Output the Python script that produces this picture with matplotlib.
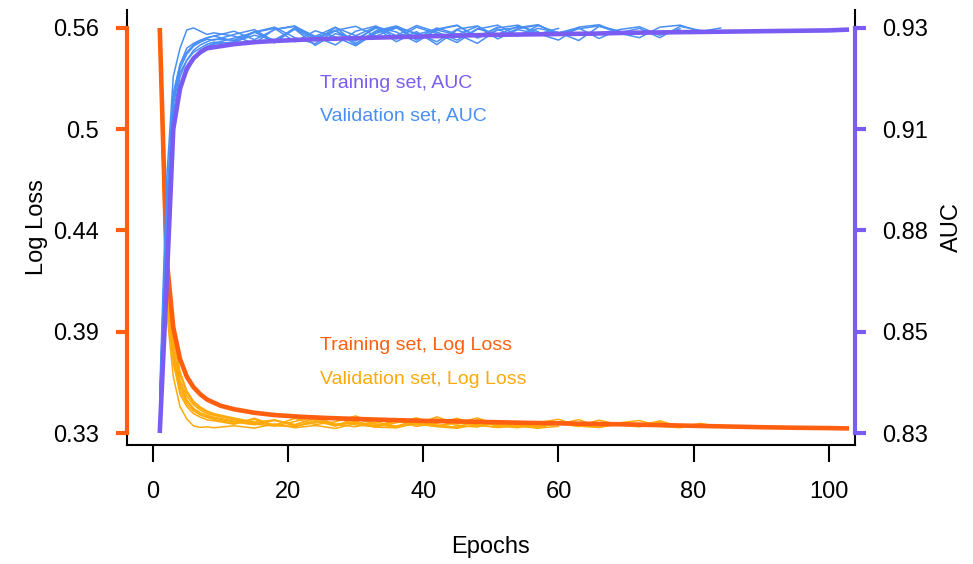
import numpy as np
import matplotlib
matplotlib.use('Agg')
import matplotlib.pyplot as plt

plt.rcParams['font.family'] = ['Liberation Sans', 'DejaVu Sans']

# training curves (epochs)
tr_ep = [1, 2, 3, 4, 5, 6, 7, 8, 10, 12, 15, 18, 22, 26, 30, 35, 40, 45, 50,
         55, 60, 65, 70, 75, 80, 85, 90, 95, 100, 103]
tr_loss = [0.560, 0.430, 0.390, 0.372, 0.362, 0.356, 0.352, 0.349, 0.3455,
           0.3435, 0.3415, 0.3402, 0.3392, 0.3385, 0.3380, 0.3374, 0.3369,
           0.3366, 0.3362, 0.3358, 0.3355, 0.3352, 0.3349, 0.3345, 0.3341,
           0.3337, 0.3333, 0.3330, 0.3328, 0.3326]
tr_auc = [0.830, 0.866, 0.905, 0.915, 0.920, 0.9225, 0.924, 0.925, 0.9255,
          0.926, 0.9265, 0.9268, 0.9271, 0.9273, 0.9275, 0.9277, 0.9279,
          0.9281, 0.9283, 0.9284, 0.9285, 0.9286, 0.9288, 0.9289, 0.9290,
          0.9291, 0.9292, 0.9293, 0.9294, 0.9296]

# validation runs, each stops at its own epoch
v_ep = [1, 2, 3, 4, 5, 6, 7, 8, 9, 12, 15, 18, 21, 24, 27, 30, 33, 36, 39,
        42, 45, 48, 51, 54, 57, 60, 63, 66, 69, 72, 75, 78, 81, 84]

vl_a = [0.552, 0.418, 0.378, 0.360, 0.351, 0.346, 0.343, 0.341, 0.340,
        0.3378, 0.3352, 0.3371, 0.3345, 0.3388, 0.3350, 0.3366, 0.3340, 0.3372,
        0.3348, 0.3392, 0.3351, 0.3363, 0.3342]
va_a = [0.836, 0.880, 0.911, 0.919, 0.922, 0.924, 0.925, 0.926, 0.9265,
        0.9262, 0.9290, 0.9268, 0.9297, 0.9257, 0.9286, 0.9272, 0.9300, 0.9266,
        0.9291, 0.9259, 0.9295, 0.9277, 0.9302]

vl_b = [0.548, 0.405, 0.370, 0.352, 0.345, 0.341, 0.339, 0.3375, 0.337,
        0.3350, 0.3384, 0.3343, 0.3336, 0.3370, 0.3347, 0.3358, 0.3333, 0.3379,
        0.3349, 0.3338, 0.3367, 0.3341, 0.3360, 0.3335, 0.3352]
va_b = [0.840, 0.892, 0.918, 0.925, 0.9295, 0.9300, 0.9292, 0.9284, 0.9288,
        0.9280, 0.9262, 0.9297, 0.9305, 0.9272, 0.9293, 0.9268, 0.9303, 0.9281,
        0.9306, 0.9290, 0.9270, 0.9298, 0.9284, 0.9304, 0.9291]

vl_c = [0.545, 0.400, 0.362, 0.345, 0.338, 0.334, 0.3332, 0.3335, 0.3330,
        0.3341, 0.3328, 0.3352, 0.3330, 0.3343, 0.3326, 0.3355, 0.3334, 0.3329,
        0.3357, 0.3336, 0.3327, 0.3348, 0.3331, 0.3342, 0.3328, 0.3338]
va_c = [0.838, 0.885, 0.914, 0.921, 0.925, 0.9262, 0.9270, 0.9276, 0.9280,
        0.9268, 0.9291, 0.9263, 0.9299, 0.9276, 0.9294, 0.9258, 0.9287, 0.9301,
        0.9270, 0.9295, 0.9283, 0.9304, 0.9273, 0.9296, 0.9285, 0.9299]

vl_d = [0.553, 0.422, 0.382, 0.363, 0.353, 0.347, 0.344, 0.342, 0.3405,
        0.3376, 0.3359, 0.3345, 0.3383, 0.3348, 0.3364, 0.3397, 0.3352, 0.3339,
        0.3371, 0.3341, 0.3357, 0.3386, 0.3344, 0.3362, 0.3336, 0.3354, 0.3337]
va_d = [0.834, 0.874, 0.906, 0.916, 0.920, 0.9228, 0.9245, 0.9255, 0.9262,
        0.9275, 0.9289, 0.9299, 0.9266, 0.9293, 0.9278, 0.9256, 0.9290, 0.9303,
        0.9274, 0.9300, 0.9285, 0.9262, 0.9296, 0.9280, 0.9306, 0.9288, 0.9301]

vl_e = [0.550, 0.412, 0.374, 0.356, 0.348, 0.3435, 0.3412, 0.3395, 0.3385,
        0.3362, 0.3347, 0.3374, 0.3340, 0.3358, 0.3389, 0.3346, 0.3335, 0.3369,
        0.3338, 0.3355, 0.3384, 0.3343, 0.3333, 0.3362, 0.3340, 0.3350, 0.3376,
        0.3334, 0.3348]
va_e = [0.837, 0.883, 0.912, 0.920, 0.9235, 0.9255, 0.9265, 0.9272, 0.9270,
        0.9284, 0.9296, 0.9267, 0.9301, 0.9279, 0.9258, 0.9292, 0.9305, 0.9273,
        0.9302, 0.9286, 0.9264, 0.9297, 0.9307, 0.9281, 0.9299, 0.9289, 0.9269,
        0.9304, 0.9293]

vl_f = [0.551, 0.415, 0.376, 0.358, 0.349, 0.344, 0.3415, 0.340, 0.339,
        0.3368, 0.3351, 0.3339, 0.3366, 0.3391, 0.3347, 0.3336, 0.3363, 0.3338,
        0.3352, 0.3380, 0.3342, 0.3334, 0.3368, 0.3345, 0.3332, 0.3359, 0.3340,
        0.3373, 0.3346, 0.3335, 0.3361, 0.3344]
va_f = [0.836, 0.879, 0.909, 0.918, 0.922, 0.9245, 0.9258, 0.9266, 0.9272,
        0.9270, 0.9290, 0.9302, 0.9276, 0.9261, 0.9294, 0.9304, 0.9280, 0.9300,
        0.9287, 0.9266, 0.9297, 0.9305, 0.9279, 0.9298, 0.9307, 0.9285, 0.9300,
        0.9274, 0.9296, 0.9303, 0.9282, 0.9298]

vl_g = [0.554, 0.425, 0.384, 0.365, 0.354, 0.348, 0.3448, 0.3425, 0.3410,
        0.3385, 0.3362, 0.3374, 0.3348, 0.3381, 0.3342, 0.3365, 0.3337, 0.3358,
        0.3386, 0.3344, 0.3333, 0.3366, 0.3341, 0.3330, 0.3359, 0.3378, 0.3339,
        0.3331, 0.3357, 0.3343, 0.3369, 0.3336, 0.3352]
va_g = [0.835, 0.872, 0.905, 0.915, 0.919, 0.9222, 0.9240, 0.9252, 0.9260,
        0.9266, 0.9282, 0.9271, 0.9298, 0.9268, 0.9301, 0.9281, 0.9303, 0.9290,
        0.9265, 0.9296, 0.9306, 0.9279, 0.9300, 0.9307, 0.9286, 0.9270, 0.9302,
        0.9308, 0.9288, 0.9299, 0.9276, 0.9304, 0.9294]

vl_h = [0.549, 0.409, 0.372, 0.354, 0.3465, 0.3425, 0.3402, 0.3388, 0.3378,
        0.3355, 0.3377, 0.3344, 0.3336, 0.3369, 0.3339, 0.3382, 0.3347, 0.3334,
        0.3361, 0.3345, 0.3331, 0.3375, 0.3348, 0.3337, 0.3329, 0.3363, 0.3344,
        0.3332, 0.3358, 0.3371, 0.3338, 0.3330, 0.3355, 0.3333]
va_h = [0.838, 0.886, 0.913, 0.921, 0.924, 0.9258, 0.9268, 0.9275, 0.9280,
        0.9292, 0.9271, 0.9296, 0.9304, 0.9279, 0.9302, 0.9262, 0.9293, 0.9305,
        0.9284, 0.9297, 0.9307, 0.9275, 0.9295, 0.9301, 0.9308, 0.9282, 0.9298,
        0.9305, 0.9287, 0.9276, 0.9302, 0.9307, 0.9291, 0.9300]

val_loss = [vl_a, vl_b, vl_c, vl_d, vl_e, vl_f, vl_g, vl_h]
val_auc = [va_a, va_b, va_c, va_d, va_e, va_f, va_g, va_h]

loss_ticks = [0.33, 0.3875, 0.445, 0.5025, 0.56]
loss_labels = ['0.33', '0.39', '0.44', '0.5', '0.56']
auc_ticks = [0.83, 0.855, 0.88, 0.905, 0.93]
auc_labels = ['0.83', '0.85', '0.88', '0.91', '0.93']

c_tl = '#ff5f0f'   # training log loss
c_vl = '#ffa90a'   # validation log loss
c_ta = '#7b5cf2'   # training auc
c_va = '#4a8ff5'   # validation auc
fs = 17

fig = plt.figure(figsize=(9.73, 5.64), dpi=100)
ax1 = fig.add_axes([0.1305, 0.211, 0.748, 0.7713])
ax2 = ax1.twinx()

for vl in val_loss:
    ax1.plot(v_ep[:len(vl)], vl, color=c_vl, lw=1.1)
ax1.plot(tr_ep, tr_loss, color=c_tl, lw=3.3, solid_capstyle='butt')

for va in val_auc:
    ax2.plot(v_ep[:len(va)], va, color=c_va, lw=1.1)
ax2.plot(tr_ep, tr_auc, color=c_ta, lw=3.3, solid_capstyle='butt')

ax1.set_xlim(-3.85, 103.85)
ax1.set_ylim(0.3232, 0.5702)
ax2.set_ylim(0.82704, 0.93444)

ax1.set_xticks([0, 20, 40, 60, 80, 100])
ax1.set_yticks(loss_ticks)
ax1.set_yticklabels(loss_labels)
ax2.set_yticks(auc_ticks)
ax2.set_yticklabels(auc_labels)

# frame: black L plus right side, coloured axis lines on top
ax1.spines['top'].set_visible(False)
for s in ['left', 'right', 'bottom']:
    ax1.spines[s].set_color('black')
    ax1.spines[s].set_linewidth(1.5)
ax2.spines['top'].set_visible(False)
ax2.spines['bottom'].set_visible(False)
ax2.spines['left'].set_color(c_tl)
ax2.spines['left'].set_linewidth(3)
ax2.spines['left'].set_bounds(0.83, 0.93)
ax2.spines['right'].set_color(c_ta)
ax2.spines['right'].set_linewidth(3)
ax2.spines['right'].set_bounds(0.83, 0.93)

ax1.tick_params(axis='x', color='black', width=1.5, length=12, pad=14,
                labelsize=fs)
ax1.tick_params(axis='y', color=c_tl, width=3, length=8, pad=12, labelsize=fs)
ax2.tick_params(axis='y', color=c_ta, width=3, length=8, pad=12, labelsize=fs)

ax1.set_xlabel('Epochs', fontsize=fs, labelpad=24)
ax1.set_ylabel('Log Loss', fontsize=fs, labelpad=4)
ax2.set_ylabel('AUC', fontsize=fs, labelpad=9)

ax1.text(0.265, 0.832, 'Training set, AUC', color=c_ta, fontsize=14,
         va='center', transform=ax1.transAxes)
ax1.text(0.265, 0.756, 'Validation set, AUC', color=c_va, fontsize=14,
         va='center', transform=ax1.transAxes)
ax1.text(0.265, 0.2276, 'Training set, Log Loss', color=c_tl, fontsize=14,
         va='center', transform=ax1.transAxes)
ax1.text(0.265, 0.1517, 'Validation set, Log Loss', color=c_vl, fontsize=14,
         va='center', transform=ax1.transAxes)

fig.savefig('out.png', dpi=100)
